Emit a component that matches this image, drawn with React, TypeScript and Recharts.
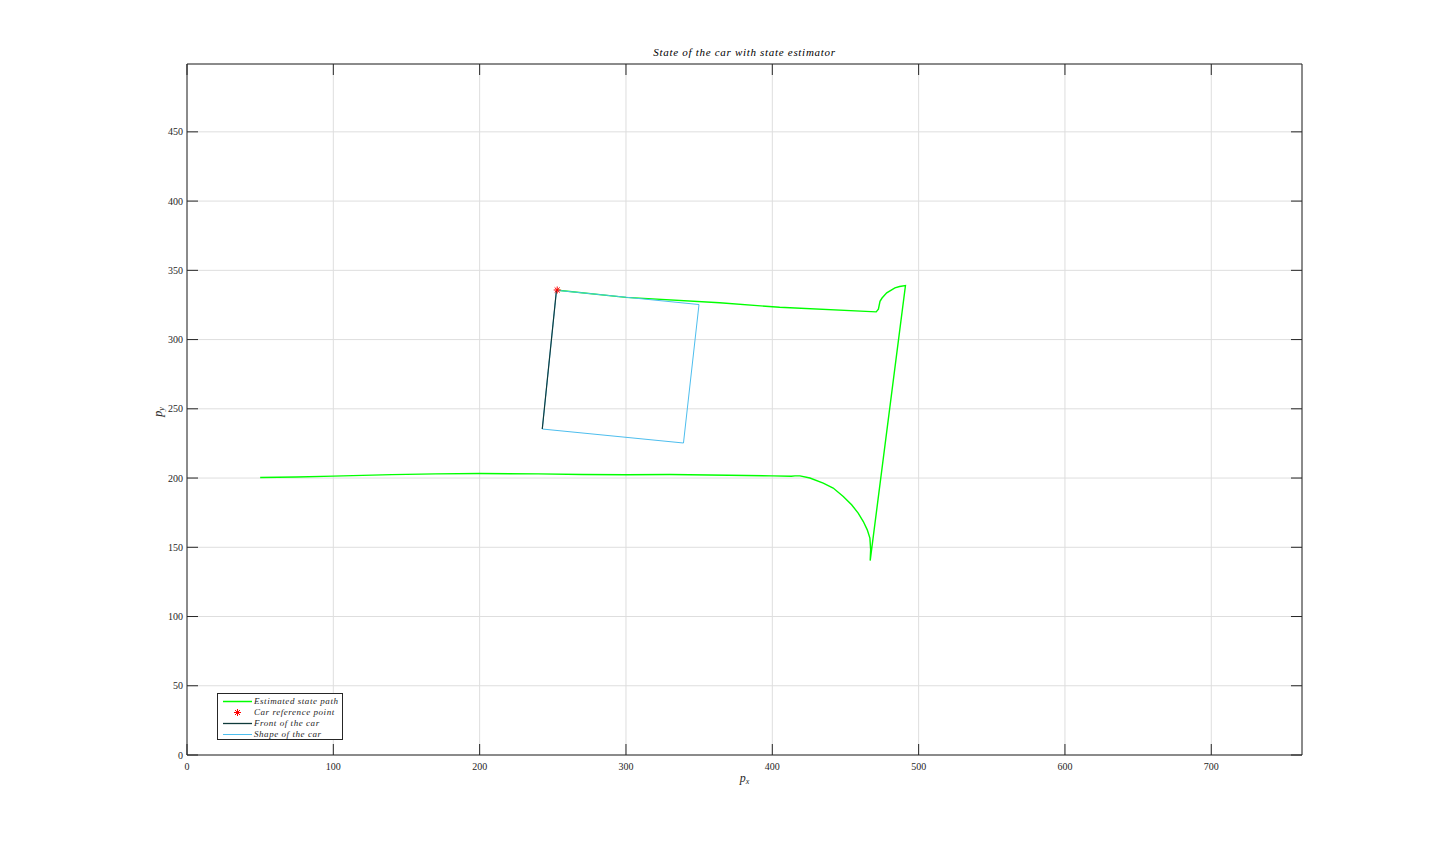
import React from 'react';
import { ComposedChart, Scatter, XAxis, YAxis, CartesianGrid, ReferenceArea } from 'recharts';

// ---- data ----
const xTicks = [0, 100, 200, 300, 400, 500, 600, 700];
const yTicks = [0, 50, 100, 150, 200, 250, 300, 350, 400, 450];
const xDomain = [0, 762];
const yDomain = [0, 499];

// Estimated state path
const pathX = [50, 75, 100, 140, 170, 200, 240, 270, 300, 330, 370, 400, 413, 415.5, 418.9, 425.7, 434.8, 441.6, 448.5, 454.2, 458.7, 462.2, 464.9, 466.7, 467.2, 466.9, 491, 487, 483.8, 478.2, 475, 473.6, 472.5, 471, 405, 364, 300, 253.5];
const pathY = [200.4, 200.8, 201.4, 202.5, 203, 203.3, 203, 202.6, 202.4, 202.6, 202, 201.6, 201.3, 201.6, 201.6, 200.0, 196.4, 192.8, 186.7, 180.7, 174.7, 168.6, 162.6, 156.6, 148.2, 140.4, 339, 338.3, 337.3, 333.7, 330, 327.6, 322, 320, 323.3, 326.6, 330.5, 335.6];

// Car reference point
const refX = [253];
const refY = [335.8];

// Front of the car
const frontX = [242.8, 252.5];
const frontY = [235.4, 335.6];

// Shape of the car
const shapeX = [252.5, 349.9, 339.3, 242.8, 252.5];
const shapeY = [335.6, 325.3, 225.3, 235.4, 335.6];

const zip = (xs: number[], ys: number[]) => xs.map((x, i) => ({ x, y: ys[i] }));
const pathData = zip(pathX, pathY);
const refData = zip(refX, refY);
const frontData = zip(frontX, frontY);
const shapeData = zip(shapeX, shapeY);

// ---- style ----
const AX = '#262626';
const GRID = '#dedede';
const GREEN = '#00ff00';
const RED = '#ff0000';
const FRONT = '#0f3b3b';
const CYAN = '#4dbeee';
const TICK_LEN = 11;
const SERIF = '"Liberation Serif", "DejaVu Serif", serif';

const W = 1440;
const H = 849;
const PLOT_LEFT = 187;
const PLOT_TOP = 64;
const PLOT_RIGHT = 1302;
const PLOT_BOTTOM = 755;
const PLOT_W = PLOT_RIGHT - PLOT_LEFT;
const PLOT_H = PLOT_BOTTOM - PLOT_TOP;

// bottom axis tick: inner tick at bottom and top of the box + label
const BottomTick = (p: any) => (
  <g>
    <line x1={p.x} x2={p.x} y1={p.y} y2={p.y - TICK_LEN} stroke={AX} strokeWidth={1} />
    <line x1={p.x} x2={p.x} y1={p.y - PLOT_H} y2={p.y - PLOT_H + TICK_LEN} stroke={AX} strokeWidth={1} />
    <text x={p.x} y={p.y + 15} textAnchor="middle" fontFamily={SERIF} fontSize={10} fill={AX}>
      {p.payload.value}
    </text>
  </g>
);
// left axis tick: inner tick at left and right of the box + label
const LeftTick = (p: any) => (
  <g>
    <line x1={p.x} x2={p.x + TICK_LEN} y1={p.y} y2={p.y} stroke={AX} strokeWidth={1} />
    <line x1={p.x + PLOT_W} x2={p.x + PLOT_W - TICK_LEN} y1={p.y} y2={p.y} stroke={AX} strokeWidth={1} />
    <text x={p.x - 4} y={p.y + 3.5} textAnchor="end" fontFamily={SERIF} fontSize={10} fill={AX}>
      {p.payload.value}
    </text>
  </g>
);

const NoShape = () => <g />;
const StarShape = (p: any) => {
  const r = 3.5;
  const d = r * 0.72;
  const { cx, cy } = p;
  return (
    <g stroke={RED} strokeWidth={1}>
      <line x1={cx - r} x2={cx + r} y1={cy} y2={cy} />
      <line x1={cx} x2={cx} y1={cy - r} y2={cy + r} />
      <line x1={cx - d} x2={cx + d} y1={cy - d} y2={cy + d} />
      <line x1={cx - d} x2={cx + d} y1={cy + d} y2={cy - d} />
    </g>
  );
};

const legendItems = [
  { label: 'Estimated state path', kind: 'line', color: GREEN, width: 1.5 },
  { label: 'Car reference point', kind: 'star', color: RED, width: 1 },
  { label: 'Front of the car', kind: 'line', color: FRONT, width: 1.3 },
  { label: 'Shape of the car', kind: 'line', color: CYAN, width: 1 },
];

export default function App() {
  return (
    <div style={{ position: 'absolute', left: 0, top: 0, width: W, height: H, background: '#fff' }}>
      <ComposedChart
        width={W}
        height={H}
        margin={{ top: PLOT_TOP, right: W - PLOT_RIGHT, bottom: H - PLOT_BOTTOM - 30, left: PLOT_LEFT - 60 }}
      >
        <CartesianGrid stroke={GRID} strokeWidth={1} />
        <XAxis
          type="number"
          dataKey="x"
          domain={xDomain}
          ticks={xTicks}
          height={30}
          tickSize={0}
          tickMargin={0}
          tickLine={false}
          axisLine={false}
          tick={BottomTick}
          interval={0}
        />
        <YAxis
          type="number"
          dataKey="y"
          domain={yDomain}
          ticks={yTicks}
          width={60}
          tickSize={0}
          tickMargin={0}
          tickLine={false}
          axisLine={false}
          tick={LeftTick}
          interval={0}
        />
        <ReferenceArea
          x1={xDomain[0]}
          x2={xDomain[1]}
          y1={yDomain[0]}
          y2={yDomain[1]}
          fill="none"
          fillOpacity={0}
          stroke={AX}
          strokeWidth={1}
          ifOverflow="visible"
        />
        <Scatter
          data={pathData}
          dataKey="y"
          line={{ stroke: GREEN, strokeWidth: 1.4 }}
          shape={NoShape}
          isAnimationActive={false}
        />
        <Scatter
          data={shapeData}
          dataKey="y"
          line={{ stroke: CYAN, strokeWidth: 1 }}
          shape={NoShape}
          isAnimationActive={false}
        />
        <Scatter
          data={frontData}
          dataKey="y"
          line={{ stroke: FRONT, strokeWidth: 1.2 }}
          shape={NoShape}
          isAnimationActive={false}
        />
        <Scatter data={refData} dataKey="y" shape={StarShape} isAnimationActive={false} />
      </ComposedChart>

      {/* title */}
      <div
        style={{
          position: 'absolute',
          left: PLOT_LEFT,
          width: PLOT_W,
          top: 45,
          textAlign: 'center',
          fontFamily: SERIF,
          fontStyle: 'italic',
          fontSize: 11,
          letterSpacing: 0.7,
          color: '#000',
          lineHeight: '14px',
        }}
      >
        State of the car with state estimator
      </div>

      {/* x label */}
      <div
        style={{
          position: 'absolute',
          left: PLOT_LEFT,
          width: PLOT_W,
          top: 771,
          textAlign: 'center',
          fontFamily: SERIF,
          fontStyle: 'italic',
          fontSize: 12,
          color: AX,
          lineHeight: '14px',
        }}
      >
        p<sub style={{ fontSize: 8, verticalAlign: '-2px' }}>x</sub>
      </div>

      {/* y label */}
      <div
        style={{
          position: 'absolute',
          left: 160 - 20,
          top: (PLOT_TOP + PLOT_BOTTOM) / 2 - 7,
          width: 40,
          textAlign: 'center',
          transform: 'rotate(-90deg)',
          fontFamily: SERIF,
          fontStyle: 'italic',
          fontSize: 12,
          color: AX,
          lineHeight: '14px',
        }}
      >
        p<sub style={{ fontSize: 8, verticalAlign: '-2px' }}>y</sub>
      </div>

      {/* legend */}
      <div
        style={{
          position: 'absolute',
          left: 217,
          top: 693,
          width: 126,
          height: 47,
          border: `1px solid ${AX}`,
          background: '#fff',
          boxSizing: 'border-box',
          fontFamily: SERIF,
          fontStyle: 'italic',
          fontSize: 9,
          letterSpacing: 0.55,
          color: AX,
        }}
      >
        {legendItems.map((it, i) => (
          <div
            key={it.label}
            style={{ position: 'absolute', left: 0, top: 1.5 + i * 11, height: 11, width: 125, lineHeight: '11px' }}
          >
            <svg width={36} height={11} style={{ position: 'absolute', left: 2, top: 0 }}>
              {it.kind === 'line' ? (
                <line x1={3} x2={32} y1={5.5} y2={5.5} stroke={it.color} strokeWidth={it.width} />
              ) : (
                <g stroke={RED} strokeWidth={1}>
                  <line x1={14} x2={21} y1={5.5} y2={5.5} />
                  <line x1={17.5} x2={17.5} y1={2} y2={9} />
                  <line x1={15} x2={20} y1={3} y2={8} />
                  <line x1={15} x2={20} y1={8} y2={3} />
                </g>
              )}
            </svg>
            <span style={{ position: 'absolute', left: 36, top: 0, whiteSpace: 'nowrap' }}>{it.label}</span>
          </div>
        ))}
      </div>
    </div>
  );
}
